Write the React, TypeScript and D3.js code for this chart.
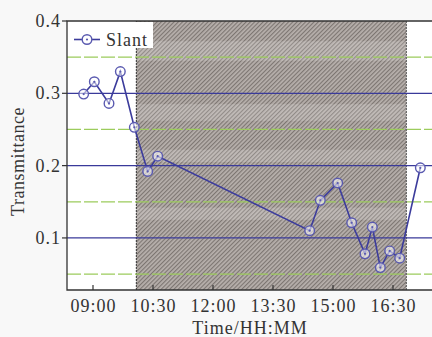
import React from 'react';
import * as d3 from 'd3';

// slant-path transmittance readings, HH:MM
const times = [
  '08:46', '09:02', '09:24', '09:41', '10:02', '10:22', '10:37',
  '14:25', '14:41', '15:07', '15:28', '15:48', '15:59', '16:11', '16:25', '16:40', '17:11',
];
const slant = [
  0.299, 0.316, 0.286, 0.330, 0.253, 0.192, 0.213,
  0.110, 0.152, 0.176, 0.121, 0.078, 0.115, 0.059, 0.082, 0.072, 0.197,
];
const xTicks = ['09:00', '10:30', '12:00', '13:30', '15:00', '16:30'];
const yTicks = [0.1, 0.2, 0.3, 0.4];
const minorY = [0.05, 0.15, 0.25, 0.35];
const shadeSpan = ['10:05', '16:50'];
const shadeBands = [[0.345, 0.372], [0.262, 0.285], [0.205, 0.222], [0.125, 0.142]];

const parse = d3.timeParse('%H:%M');

const W = 432;
const H = 337;
const margin = { top: 21, right: -1, bottom: 47, left: 67 };

export default function App() {
  const x = d3
    .scaleTime()
    .domain([parse('08:21')!, parse('17:30')!])
    .range([margin.left, W - margin.right]);
  const y = d3
    .scaleLinear()
    .domain([0.028, 0.4])
    .range([H - margin.bottom, margin.top]);

  const pts = times.map((t, i) => [x(parse(t)!), y(slant[i])] as [number, number]);
  const line = d3.line()(pts);

  const x0 = margin.left;
  const x1 = W - margin.right;
  const yTop = margin.top;
  const yBot = H - margin.bottom;
  const s0 = x(parse(shadeSpan[0])!);
  const s1 = x(parse(shadeSpan[1])!);

  const font = { fontFamily: '"Liberation Serif", "DejaVu Serif", serif', fontSize: 18, fill: '#333', letterSpacing: 1 };
  const lineCol = '#3c3c9c';

  return (
    <svg width={W} height={H} style={{ position: 'absolute', left: 0, top: 0, background: '#f8f8f8' }}>
      <defs>
        <pattern id="hatch" width="3" height="3" patternUnits="userSpaceOnUse" patternTransform="rotate(45)">
          <rect width="3" height="3" fill="#b7b0ac" />
          <line x1="0.6" y1="0" x2="0.6" y2="3" stroke="#7a736f" strokeWidth="1.1" />
        </pattern>
        <clipPath id="plot">
          <rect x={x0} y={yTop} width={x1 - x0} height={yBot - yTop} />
        </clipPath>
      </defs>

      <rect x={x0} y={yTop} width={x1 - x0} height={yBot - yTop} fill="#fff" />

      <g clipPath="url(#plot)">
        <rect x={s0} y={yTop} width={s1 - s0} height={yBot - yTop} fill="url(#hatch)" />
        {shadeBands.map(([a, b], i) => (
          <rect key={i} x={s0} y={y(b)} width={s1 - s0} height={y(a) - y(b)} fill="#fff" opacity={0.16} />
        ))}
        <line x1={s0} x2={s0} y1={yTop} y2={yBot} stroke="#333" strokeWidth={1} strokeDasharray="2 1" />
        <line x1={s1} x2={s1} y1={yTop} y2={yBot} stroke="#555" strokeWidth={1} strokeDasharray="2 1" />

        {minorY.map((v) => (
          <line key={v} x1={x0} x2={x1} y1={y(v)} y2={y(v)} stroke="#9ccc5c" strokeWidth={1.2} strokeDasharray="14 3" />
        ))}
        {yTicks.filter((v) => v < 0.4).map((v) => (
          <line key={v} x1={x0} x2={x1} y1={y(v)} y2={y(v)} stroke="#3a3a9a" strokeWidth={1.2} />
        ))}

        <path d={line ?? ''} fill="none" stroke={lineCol} strokeWidth={1.6} />
        {pts.map(([px, py], i) => (
          <g key={i}>
            <circle cx={px} cy={py} r={4.8} fill="rgba(255,255,255,0.55)" stroke="#5a5ab0" strokeWidth={1.4} />
            <circle cx={px} cy={py} r={1.1} fill="#5a5ab0" />
          </g>
        ))}
      </g>

      {/* legend */}
      <rect x={x0 + 1} y={yTop + 1} width={85} height={26} fill="#fff" />
      <line x1={74} x2={100} y1={39.5} y2={39.5} stroke={lineCol} strokeWidth={1.6} />
      <circle cx={87} cy={39.5} r={4.8} fill="#fff" stroke="#5a5ab0" strokeWidth={1.4} />
      <circle cx={87} cy={39.5} r={1.1} fill="#5a5ab0" />
      <text x={106} y={45.5} {...font}>Slant</text>

      {/* frame */}
      <path d={`M${x1},${yTop}H${x0}V${yBot}H${x1}`} fill="none" stroke="#333" strokeWidth={1.3} />

      {/* y axis */}
      {yTicks.map((v) => (
        <g key={v}>
          <line x1={x0 - 5} x2={x0} y1={y(v)} y2={y(v)} stroke="#333" strokeWidth={1.2} />
          <text x={61} y={y(v) + 6} textAnchor="end" {...font}>{d3.format('.1f')(v)}</text>
        </g>
      ))}
      <text
        transform={`translate(24,${(yTop + yBot) / 2 + 6}) rotate(-90)`}
        textAnchor="middle"
        {...font}
        letterSpacing={0.5}
      >
        Transmittance
      </text>

      {/* x axis */}
      {xTicks.map((t) => {
        const px = x(parse(t)!);
        return (
          <g key={t}>
            <line x1={px} x2={px} y1={yBot} y2={yBot - 5} stroke="#333" strokeWidth={1.2} />
            <text x={px + 0.5} y={311.5} textAnchor="middle" {...font}>{t}</text>
          </g>
        );
      })}
      <text x={(x0 + 433) / 2} y={334} textAnchor="middle" {...font}>Time/HH:MM</text>
    </svg>
  );
}
